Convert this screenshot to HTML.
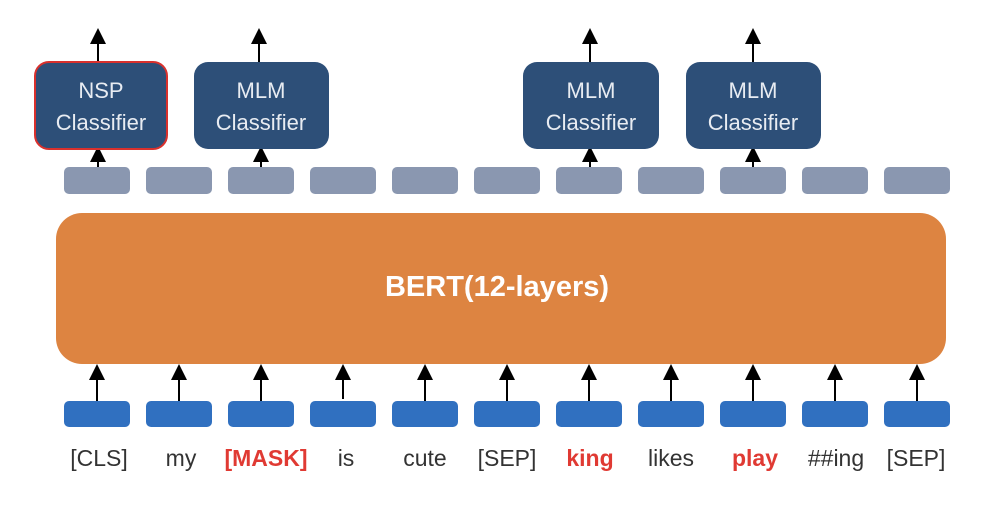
<!DOCTYPE html>
<html><head><style>
body{margin:0;background:#fff;width:1000px;height:508px;overflow:hidden;font-family:"Liberation Sans","DejaVu Sans",sans-serif}
</style></head><body>
<svg width="1000" height="508" viewBox="0 0 1000 508" xmlns="http://www.w3.org/2000/svg">
<defs><marker id="a" markerWidth="8" markerHeight="8" refX="4" refY="4" orient="auto"><path d="M0,0 L8,4 L0,8 z" fill="#000"/></marker></defs>
<rect x="56" y="213" width="890" height="151" rx="26" fill="#dd8441"/>
<text x="497" y="296" text-anchor="middle" font-size="29" font-weight="bold" fill="#fff">BERT(12-layers)</text>
<g fill="#8a97b0">
<rect x="64" y="167" width="66" height="27" rx="5"/><rect x="146" y="167" width="66" height="27" rx="5"/><rect x="228" y="167" width="66" height="27" rx="5"/><rect x="310" y="167" width="66" height="27" rx="5"/><rect x="392" y="167" width="66" height="27" rx="5"/><rect x="474" y="167" width="66" height="27" rx="5"/><rect x="556" y="167" width="66" height="27" rx="5"/><rect x="638" y="167" width="66" height="27" rx="5"/><rect x="720" y="167" width="66" height="27" rx="5"/><rect x="802" y="167" width="66" height="27" rx="5"/><rect x="884" y="167" width="66" height="27" rx="5"/>
</g>
<g fill="#3070c0">
<rect x="64" y="401" width="66" height="26" rx="5"/><rect x="146" y="401" width="66" height="26" rx="5"/><rect x="228" y="401" width="66" height="26" rx="5"/><rect x="310" y="401" width="66" height="26" rx="5"/><rect x="392" y="401" width="66" height="26" rx="5"/><rect x="474" y="401" width="66" height="26" rx="5"/><rect x="556" y="401" width="66" height="26" rx="5"/><rect x="638" y="401" width="66" height="26" rx="5"/><rect x="720" y="401" width="66" height="26" rx="5"/><rect x="802" y="401" width="66" height="26" rx="5"/><rect x="884" y="401" width="66" height="26" rx="5"/>
</g>
<g stroke="#000" stroke-width="2" marker-end="url(#a)">
<line x1="97" y1="401" x2="97" y2="372"/><line x1="179" y1="401" x2="179" y2="372"/><line x1="261" y1="401" x2="261" y2="372"/><line x1="343" y1="399" x2="343" y2="372"/><line x1="425" y1="401" x2="425" y2="372"/><line x1="507" y1="401" x2="507" y2="372"/><line x1="589" y1="401" x2="589" y2="372"/><line x1="671" y1="401" x2="671" y2="372"/><line x1="753" y1="401" x2="753" y2="372"/><line x1="835" y1="401" x2="835" y2="372"/><line x1="917" y1="401" x2="917" y2="372"/>
<line x1="98" y1="167" x2="98" y2="154"/><line x1="261" y1="167" x2="261" y2="154"/><line x1="590" y1="167" x2="590" y2="154"/><line x1="753" y1="167" x2="753" y2="154"/>
<line x1="98" y1="62" x2="98" y2="36"/><line x1="259" y1="62" x2="259" y2="36"/><line x1="590" y1="62" x2="590" y2="36"/><line x1="753" y1="62" x2="753" y2="36"/>
</g>
<rect x="35" y="62" width="132" height="87" rx="14" fill="#2d4f78" stroke="#d9312d" stroke-width="2"/>
<rect x="194" y="62" width="135" height="87" rx="14" fill="#2d4f78"/>
<rect x="523" y="62" width="136" height="87" rx="14" fill="#2d4f78"/>
<rect x="686" y="62" width="135" height="87" rx="14" fill="#2d4f78"/>
<g fill="#e8ecf2" font-size="22" text-anchor="middle">
<text x="101" y="98">NSP</text><text x="101" y="130">Classifier</text>
<text x="261" y="98">MLM</text><text x="261" y="130">Classifier</text>
<text x="591" y="98">MLM</text><text x="591" y="130">Classifier</text>
<text x="753" y="98">MLM</text><text x="753" y="130">Classifier</text>
</g>
<g font-size="23" text-anchor="middle" fill="#333">
<text x="99" y="466">[CLS]</text><text x="181" y="466">my</text>
<text x="266" y="466" fill="#e03a33" font-weight="bold">[MASK]</text>
<text x="346" y="466">is</text><text x="425" y="466">cute</text><text x="507" y="466">[SEP]</text>
<text x="590" y="466" fill="#e03a33" font-weight="bold">king</text>
<text x="671" y="466">likes</text>
<text x="755" y="466" fill="#e03a33" font-weight="bold">play</text>
<text x="836" y="466">##ing</text><text x="916" y="466">[SEP]</text>
</g>
</svg>
</body></html>
